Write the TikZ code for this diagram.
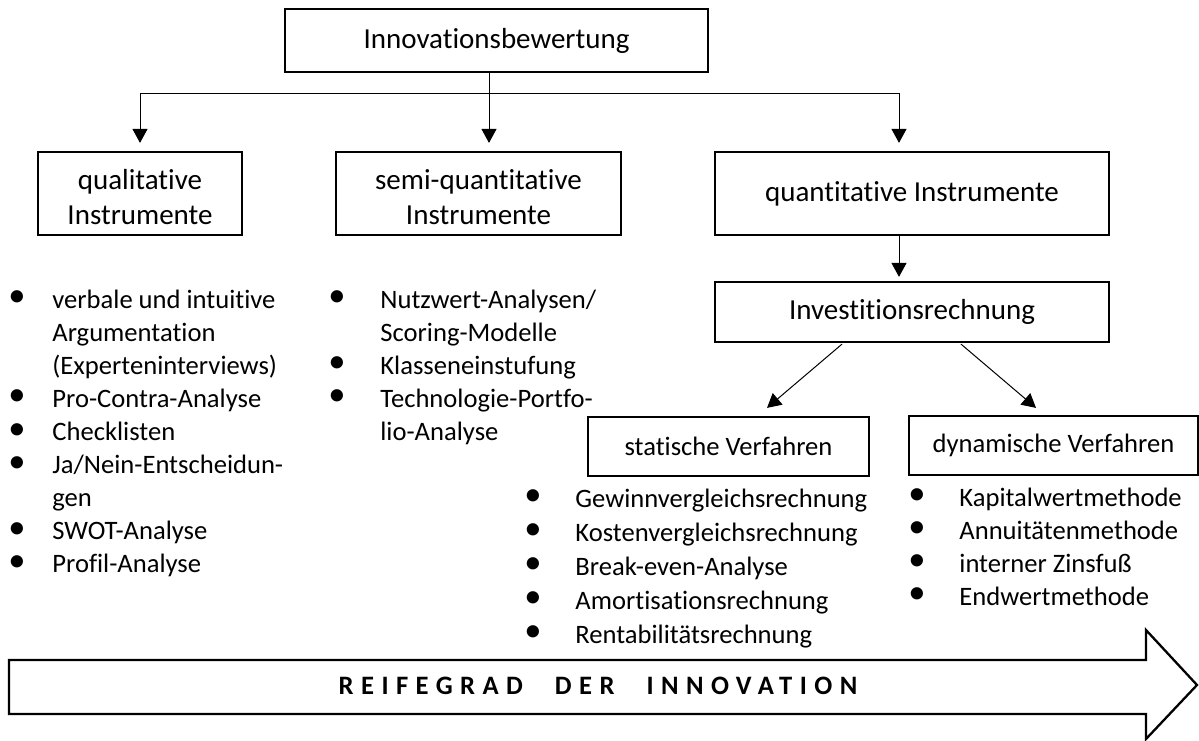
\documentclass[tikz,border=0pt]{standalone}
\usepackage{fontspec}
\usepackage{graphicx}
\setmainfont{Carlito}[Ligatures=NoCommon]
\usetikzlibrary{arrows.meta,calc}
\tikzset{
  box/.style 2 args={
    draw,
    line width=1.1pt,
    inner sep=0pt,
    align=center,
    minimum width={#1*0.5pt},
    minimum height={#2*0.5pt},
    font=\fontsize{14.5}{17.5}\selectfont,
  },
  small box/.style 2 args={
    box={#1}{#2},
    font=\fontsize{13.3}{16}\selectfont,
  },
  pfeil/.style={
    -{Triangle[length=7pt,width=7.5pt]},
    line width=0.5pt,
    shorten >=4pt,
  },
  liste/.style={
    anchor=base west,
    inner sep=0pt,
    font=\fontsize{13.3}{#1}\selectfont,
  }
}
\newcommand{\bul}{\raisebox{0.05em}{\scalebox{1.3}{\textbullet}}}

\begin{document}
\begin{tikzpicture}[x=0.5pt,y=-0.5pt]
        \useasboundingbox (0,0) rectangle (1199,740);

        \node [box={423}{63}] (bewertung) at (496.5,40.5) {Innovationsbewertung};
        \node [box={204}{83}, text height=31.5pt] (qualitativ) at (140,193.5) {qualitative\\Instrumente};
        \node [box={285}{83}, text height=31.5pt] (semi) at (478.5,193.5) {semi-quantitative\\Instrumente};
        \node [box={394}{83}] (quanti) at (912,193.5) {quantitative Instrumente};
        \node [box={394}{60}] (invest) at (912,312) {Investitionsrechnung};
        \node [small box={281}{59}] (statisch) at (728.5,446.5) {statische Verfahren};
        \node [small box={289}{59}] (dynamisch) at (1053.5,445.5) {dynamische Verfahren};

        \coordinate (verteiler) at (489,93);
        \coordinate (qx) at (899,0);
        \draw [pfeil] (bewertung.south -| verteiler) -- (semi.north -| verteiler);
        \draw [pfeil] (verteiler) -| (qualitativ.north);
        \draw [pfeil] (verteiler) -| (quanti.north -| qx);
        \draw [pfeil, shorten >=2pt] (quanti.south -| qx) -- (invest.north -| qx);
        \draw [pfeil, shorten >=0pt] ($(invest.south)+(-70,1)$) -- ($(statisch.north)+(38.5,-8)$);
        \draw [pfeil, shorten >=0pt] ($(invest.south)+(49,1)$) -- ($(dynamisch.north)+(-17.5,-7)$);

        % Listen
        \node [liste=16.55pt] (qualliste) at (8,308) {\begin{tabular}[t]{@{}p{22pt}@{}l@{}}
          \bul & verbale und intuitive\\
               & Argumentation\\
               & (Experteninterviews)\\
          \bul & Pro-Contra-Analyse\\
          \bul & Checklisten\\
          \bul & Ja/Nein-Entscheidun-\\
               & gen\\
          \bul & SWOT-Analyse\\
          \bul & Profil-Analyse
        \end{tabular}};
        \node [liste=16.55pt] (semiliste) at (328,308) {\begin{tabular}[t]{@{}p{26pt}@{}l@{}}
          \bul & Nutzwert-Analysen/\\
               & Scoring-Modelle\\
          \bul & Klasseneinstufung\\
          \bul & Technologie-Portfo-\\
               & lio-Analyse
        \end{tabular}};
        \node [liste=17pt] (statliste) at (524,507) {\begin{tabular}[t]{@{}p{25.5pt}@{}l@{}}
          \bul & Gewinnvergleichsrechnung\\
          \bul & Kostenvergleichsrechnung\\
          \bul & Break-even-Analyse\\
          \bul & Amortisationsrechnung\\
          \bul & Rentabilitätsrechnung
        \end{tabular}};
        \node [liste=16.5pt] (dynliste) at (908,506) {\begin{tabular}[t]{@{}p{25.5pt}@{}l@{}}
          \bul & Kapitalwertmethode\\
          \bul & Annuitätenmethode\\
          \bul & interner Zinsfuß\\
          \bul & Endwertmethode
        \end{tabular}};

        % Reifegrad-Pfeil
        \draw [line width=1.15pt] (9,660) -- (1146,660) -- (1146,630) -- (1197,685)
          -- (1146,739) -- (1146,714) -- (9,714) -- cycle;
        \node [font=\bfseries\fontsize{13.3}{16}\selectfont\addfontfeature{LetterSpace=28}] (reifegrad) at (598,686)
          {REIFEGRAD\hspace{16pt}DER\hspace{16pt}INNOVATION};
\end{tikzpicture}
\end{document}
